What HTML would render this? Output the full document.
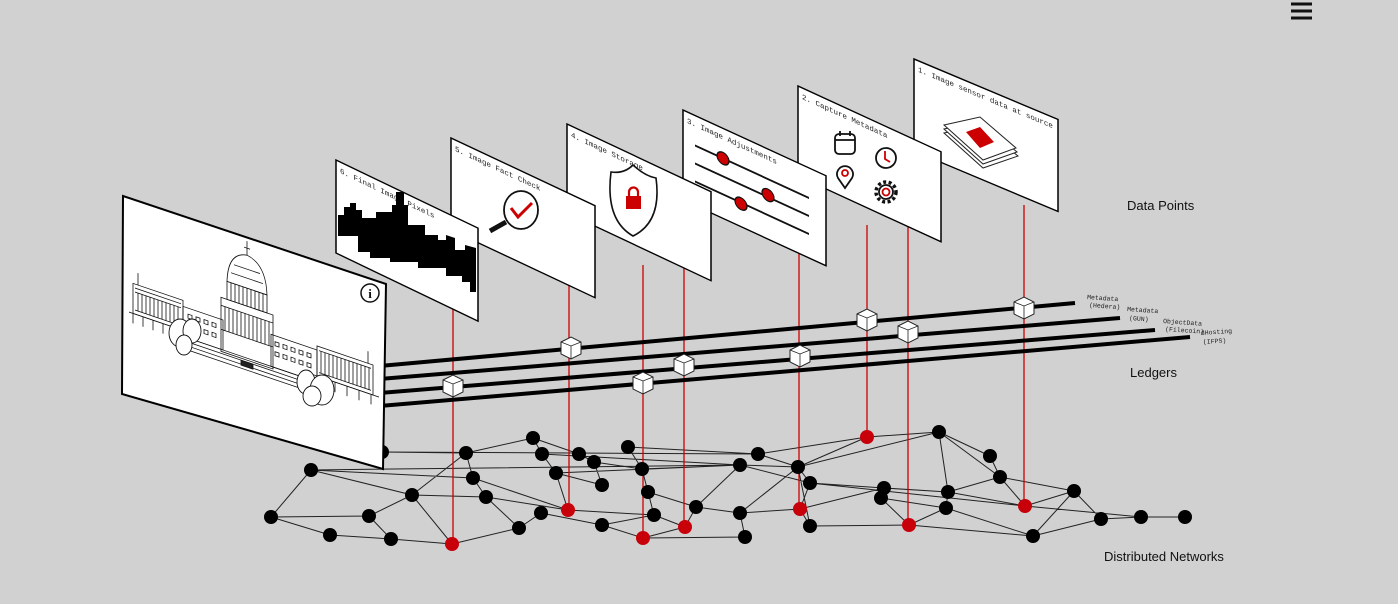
<!DOCTYPE html>
<html><head><meta charset="utf-8"><style>
html,body{margin:0;padding:0;background:#d1d1d1;}
svg{display:block;}
.mono{font-family:"Liberation Mono",monospace;font-size:7.5px;fill:#222;}
.lab{font-family:"Liberation Sans",sans-serif;font-size:13px;fill:#111;}
.ll{font-family:"Liberation Mono",monospace;font-size:6.5px;fill:#222;}
</style></head><body>
<svg width="1398" height="604" viewBox="0 0 1398 604" xmlns="http://www.w3.org/2000/svg">
<rect width="1398" height="604" fill="#d1d1d1"/>
<g stroke="#111" stroke-width="3"><line x1="1291" y1="4" x2="1312" y2="4"/><line x1="1291" y1="11" x2="1312" y2="11"/><line x1="1291" y1="18" x2="1312" y2="18"/></g>

<g stroke="#222" stroke-width="1" fill="none">
<path d="M311,470L271,517M311,470L412,495M311,470L473,478M311,470L740,465M382,452L466,453M382,452L758,454M271,517L330,535M271,517L369,516M330,535L391,539M369,516L391,539M369,516L412,495M391,539L452,544M412,495L452,544M412,495L486,497M412,495L466,453M466,453L473,478M466,453L533,438M473,478L486,497M473,478L568,510M486,497L519,528M486,497L568,510M519,528L541,513M519,528L452,544M533,438L542,454M533,438L579,454M542,454L556,473M542,454L740,465M556,473L602,485M556,473L568,510M579,454L594,462M594,462L602,485M594,462L642,469M628,447L642,469M628,447L758,454M642,469L648,492M642,469L740,465M648,492L654,515M648,492L696,507M654,515L568,510M654,515L602,525M602,525L541,513M602,525L643,538M643,538L685,527M643,538L745,537M654,515L685,527M685,527L696,507M696,507L740,465M696,507L740,513M740,513L745,537M740,513L800,509M740,465L798,467M740,465L810,483M758,454L798,467M758,454L867,437M798,467L867,437M798,467L810,483M798,467L740,513M798,467L810,526M810,483L884,488M810,483L800,509M810,526L800,509M810,526L909,525M867,437L939,432M798,467L939,432M939,432L990,456M939,432L948,492M939,432L1000,477M990,456L1000,477M1000,477L948,492M1000,477L1074,491M909,525L946,508M909,525L881,498M909,525L1033,536M884,488L881,498M881,498L946,508M948,492L946,508M946,508L1033,536M1033,536L1074,491M1033,536L1101,519M1074,491L1101,519M1101,519L1141,517M1141,517L1185,517M1074,491L1025,506M1025,506L1000,477M1025,506L1141,517M1025,506L948,492M810,483L1025,506M884,488L948,492M800,509L884,488M556,473L740,465"/>
</g>
<g stroke="#c00" stroke-width="1.3">
<line x1="453" y1="300" x2="453" y2="544"/><line x1="569" y1="280" x2="569" y2="510"/>
<line x1="643" y1="265" x2="643" y2="538"/><line x1="684" y1="260" x2="684" y2="527"/>
<line x1="799" y1="250" x2="799" y2="509"/><line x1="867" y1="225" x2="867" y2="437"/>
<line x1="908" y1="220" x2="908" y2="525"/><line x1="1024" y1="205" x2="1024" y2="505"/>
</g>
<g fill="#000">
<circle cx="311" cy="470" r="7"/><circle cx="382" cy="452" r="7"/><circle cx="271" cy="517" r="7"/><circle cx="330" cy="535" r="7"/><circle cx="369" cy="516" r="7"/><circle cx="391" cy="539" r="7"/><circle cx="412" cy="495" r="7"/><circle cx="466" cy="453" r="7"/><circle cx="473" cy="478" r="7"/><circle cx="486" cy="497" r="7"/><circle cx="519" cy="528" r="7"/><circle cx="533" cy="438" r="7"/><circle cx="542" cy="454" r="7"/><circle cx="556" cy="473" r="7"/><circle cx="579" cy="454" r="7"/><circle cx="594" cy="462" r="7"/><circle cx="602" cy="485" r="7"/><circle cx="541" cy="513" r="7"/><circle cx="602" cy="525" r="7"/><circle cx="628" cy="447" r="7"/><circle cx="642" cy="469" r="7"/><circle cx="648" cy="492" r="7"/><circle cx="654" cy="515" r="7"/><circle cx="696" cy="507" r="7"/><circle cx="740" cy="513" r="7"/><circle cx="745" cy="537" r="7"/><circle cx="758" cy="454" r="7"/><circle cx="740" cy="465" r="7"/><circle cx="798" cy="467" r="7"/><circle cx="810" cy="483" r="7"/><circle cx="810" cy="526" r="7"/><circle cx="939" cy="432" r="7"/><circle cx="884" cy="488" r="7"/><circle cx="881" cy="498" r="7"/><circle cx="948" cy="492" r="7"/><circle cx="946" cy="508" r="7"/><circle cx="990" cy="456" r="7"/><circle cx="1000" cy="477" r="7"/><circle cx="1074" cy="491" r="7"/><circle cx="1033" cy="536" r="7"/><circle cx="1101" cy="519" r="7"/><circle cx="1141" cy="517" r="7"/><circle cx="1185" cy="517" r="7"/>
</g>
<g fill="#c8000a">
<circle cx="452" cy="544" r="7"/><circle cx="568" cy="510" r="7"/><circle cx="643" cy="538" r="7"/><circle cx="685" cy="527" r="7"/><circle cx="800" cy="509" r="7"/><circle cx="867" cy="437" r="7"/><circle cx="909" cy="525" r="7"/><circle cx="1025" cy="506" r="7"/>
</g>

<g stroke="#000" stroke-width="4">
<line x1="380" y1="366" x2="1075" y2="303"/>
<line x1="380" y1="379" x2="1120" y2="318"/>
<line x1="380" y1="393" x2="1155" y2="330"/>
<line x1="380" y1="406" x2="1190" y2="337"/>
<line x1="148" y1="385" x2="172" y2="381"/>
<line x1="183" y1="395" x2="207" y2="391"/>
<line x1="218" y1="408" x2="242" y2="404"/>
</g>
<g class="ll">
<text x="1087" y="299" transform="rotate(4 1087 299)">Metadata</text><text x="1089" y="307" transform="rotate(4 1089 307)">(Hedera)</text>
<text x="1127" y="311" transform="rotate(4 1127 311)">Metadata</text><text x="1129" y="320" transform="rotate(4 1129 320)">(GUN)</text>
<text x="1163" y="323" transform="rotate(4 1163 323)">ObjectData</text><text x="1165" y="331" transform="rotate(4 1165 331)">(Filecoin)</text>
<text x="1201" y="335" transform="rotate(-4 1201 335)">dHosting</text><text x="1203" y="344" transform="rotate(-4 1203 344)">(IFPS)</text>
</g>
<defs>
<g id="cube"><polygon points="-10,-6 0,-11 10,-6 10,6 0,11 -10,6" fill="#fff" stroke="#222" stroke-width="1"/><polyline points="-10,-6 0,-2 10,-6" fill="none" stroke="#222" stroke-width="0.8"/><line x1="0" y1="-2" x2="0" y2="11" stroke="#222" stroke-width="0.8"/></g>
</defs>
<use href="#cube" x="453" y="386"/><use href="#cube" x="571" y="348"/><use href="#cube" x="643" y="383"/><use href="#cube" x="684" y="365"/><use href="#cube" x="800" y="356"/><use href="#cube" x="867" y="320"/><use href="#cube" x="908" y="332"/><use href="#cube" x="1024" y="308"/>

<!-- Panel 1 -->
<g transform="matrix(1,0.42,0,1,914,59)">
<rect x="0" y="0" width="144" height="92" fill="#fff" stroke="#000" stroke-width="1.5"/>
<text class="mono" x="4" y="11">1. Image sensor data at source</text>
</g>
<g stroke="#222" stroke-width="1" fill="#fff">
<polygon points="944,133 980,125 1018,156 983,168"/>
<polygon points="944,129 980,121 1017,152 983,164"/>
<polygon points="944,125 980,117 1016,148 983,160"/>
<polygon points="966,132 980,127 994,142 980,148" fill="#c00" stroke="none"/>
</g>
<!-- Panel 2 -->
<g transform="matrix(1,0.46,0,1,798,86)">
<rect x="0" y="0" width="143" height="90" fill="#fff" stroke="#000" stroke-width="1.5"/>
<text class="mono" x="4" y="11">2. Capture Metadata</text>
</g>
<g fill="none" stroke="#111" stroke-width="1.8">
<rect x="835" y="134" width="20" height="20" rx="4"/><line x1="835" y1="140" x2="855" y2="140"/><line x1="840" y1="131" x2="840" y2="136"/><line x1="850" y1="131" x2="850" y2="136"/>
<circle cx="886" cy="158" r="10"/><path d="M885,151 L885,159 L890,162" stroke="#c00"/>
<path d="M838,178 a8,8 0 1 1 14,0 l-7,10 z"/><circle cx="845" cy="173" r="3" stroke="#c00"/>
<circle cx="886" cy="192" r="10" stroke-width="3.5" stroke-dasharray="3 2.5"/><circle cx="886" cy="192" r="7"/><circle cx="886" cy="192" r="3.5" stroke="#c00"/>
</g>
<!-- Panel 3 -->
<g transform="matrix(1,0.46,0,1,683,110)">
<rect x="0" y="0" width="143" height="90" fill="#fff" stroke="#000" stroke-width="1.5"/>
<text class="mono" x="4" y="11">3. Image Adjustments</text>
<g stroke="#111" stroke-width="2"><line x1="12" y1="30" x2="126" y2="30"/><line x1="12" y1="48" x2="126" y2="48"/><line x1="12" y1="66" x2="126" y2="66"/></g>
<g fill="#c00" stroke="#111" stroke-width="1.2"><circle cx="40" cy="30" r="6"/><circle cx="85" cy="46" r="6"/><circle cx="58" cy="67" r="6"/></g>
</g>
<!-- Panel 4 -->
<g transform="matrix(1,0.47,0,1,567,124)">
<rect x="0" y="0" width="144" height="89" fill="#fff" stroke="#000" stroke-width="1.5"/>
<text class="mono" x="4" y="11">4. Image Storage</text>
</g>
<path d="M611,172 Q624,174 633,165 Q645,176 656,178 Q662,222 633,236 Q605,220 611,172 Z" fill="#fff" stroke="#111" stroke-width="1.6"/>
<rect x="626" y="196" width="15" height="13" fill="#c00"/><path d="M629,196 v-4 a4.5,4.5 0 0 1 9,0 v4" fill="none" stroke="#c00" stroke-width="2.2"/>
<!-- Panel 5 -->
<g transform="matrix(1,0.47,0,1,451,138)">
<rect x="0" y="0" width="144" height="92" fill="#fff" stroke="#000" stroke-width="1.5"/>
<text class="mono" x="4" y="11">5. Image Fact Check</text>
</g>
<ellipse cx="521" cy="210" rx="17" ry="19" fill="#fff" stroke="#111" stroke-width="1.8"/>
<path d="M511,208 L518,217 L532,203" fill="none" stroke="#c00" stroke-width="3"/>
<line x1="506" y1="222" x2="490" y2="231" stroke="#111" stroke-width="5"/>
<!-- Panel 6 -->
<g transform="matrix(1,0.48,0,1,336,160)">
<rect x="0" y="0" width="142" height="93" fill="#fff" stroke="#000" stroke-width="1.5"/>
<text class="mono" x="4" y="11">6. Final Image   Pixels</text>
</g>
<polygon fill="#000" points="338,215 344,215 344,207 350,207 350,203 356,203 356,210 362,210 362,218 376,218 376,212 392,212 392,205 396,205 396,192 404,192 404,205 408,205 408,225 425,225 425,235 438,235 438,240 446,240 446,235 455,238 455,250 465,250 465,245 476,248 476,292 470,292 470,282 462,282 462,276 446,276 446,268 418,268 418,262 390,262 390,258 370,258 370,252 358,252 358,236 338,236"/>

<!-- big capitol panel -->
<polygon points="123,196 386,284 383,469 122,394" fill="#fff" stroke="#000" stroke-width="2"/>
<g transform="matrix(1,0.34,0,1,123,196)" fill="none" stroke="#111" stroke-width="0.8">
<rect x="10" y="84" width="50" height="30"/>
<path d="M12,88h46M12,92h46M12,110h46"/>
<path d="M15,92v18M19,92v18M23,92v18M27,92v18M31,92v18M35,92v18M39,92v18M43,92v18M47,92v18M51,92v18M55,92v18"/>
<path d="M6,114h58M10,114v10M20,114v10M30,114v10M40,114v10M50,114v10M15,72v12"/>
<rect x="60" y="90" width="40" height="30"/>
<path d="M65,96h4v4h-4zM73,96h4v4h-4zM81,96h4v4h-4zM89,96h4v4h-4zM65,106h4v4h-4zM73,106h4v4h-4zM81,106h4v4h-4zM89,106h4v4h-4z"/>
<rect x="98" y="68" width="52" height="54"/>
<path d="M98,76h52M102,76v24M106,76v24M110,76v24M114,76v24M118,76v24M122,76v24M126,76v24M130,76v24M134,76v24M138,76v24M142,76v24M146,76v24M98,100h52"/>
<rect x="104" y="50" width="40" height="18"/>
<path d="M108,50v18M112,50v18M116,50v18M120,50v18M124,50v18M128,50v18M132,50v18M136,50v18M140,50v18"/>
<path d="M104,50 Q105,20 124,17 Q143,20 144,50 Z"/>
<path d="M108,40h32M111,31h26M124,17v-10M121,10h6M124,3v4"/>
<rect x="148" y="88" width="46" height="32"/>
<path d="M152,94h4v4h-4zM160,94h4v4h-4zM168,94h4v4h-4zM176,94h4v4h-4zM184,94h4v4h-4zM152,104h4v4h-4zM160,104h4v4h-4zM168,104h4v4h-4zM176,104h4v4h-4zM184,104h4v4h-4z"/>
<rect x="194" y="84" width="56" height="30"/>
<path d="M196,88h52M196,110h52M198,88v22M202,88v22M206,88v22M210,88v22M214,88v22M218,88v22M222,88v22M226,88v22M230,88v22M234,88v22M238,88v22M242,88v22M246,88v22"/>
<path d="M190,114h66M200,114v10M212,114v10M224,114v10M236,114v10M248,114v10M245,72v12"/>
<path d="M60,120h140M62,124h136M64,128h132M66,132h128M70,120l-8,18M196,120l6,18"/>
<rect x="118" y="124" width="12" height="5" fill="#222"/>
</g>
<g fill="#fff" stroke="#111" stroke-width="0.9">
<ellipse cx="180" cy="333" rx="11" ry="14"/><ellipse cx="192" cy="331" rx="9" ry="12"/><ellipse cx="184" cy="345" rx="8" ry="10"/>
<ellipse cx="306" cy="382" rx="9" ry="12"/><ellipse cx="322" cy="390" rx="12" ry="15"/><ellipse cx="312" cy="396" rx="9" ry="10"/>
</g>
<circle cx="370" cy="293" r="9" fill="#fff" stroke="#111" stroke-width="1.5"/>
<text x="370" y="298" text-anchor="middle" font-family="Liberation Serif,serif" font-weight="bold" font-size="13" fill="#111">i</text>

<text class="lab" x="1127" y="210">Data Points</text>
<text class="lab" x="1130" y="377">Ledgers</text>
<text class="lab" x="1104" y="561">Distributed Networks</text>
</svg>
</body></html>
